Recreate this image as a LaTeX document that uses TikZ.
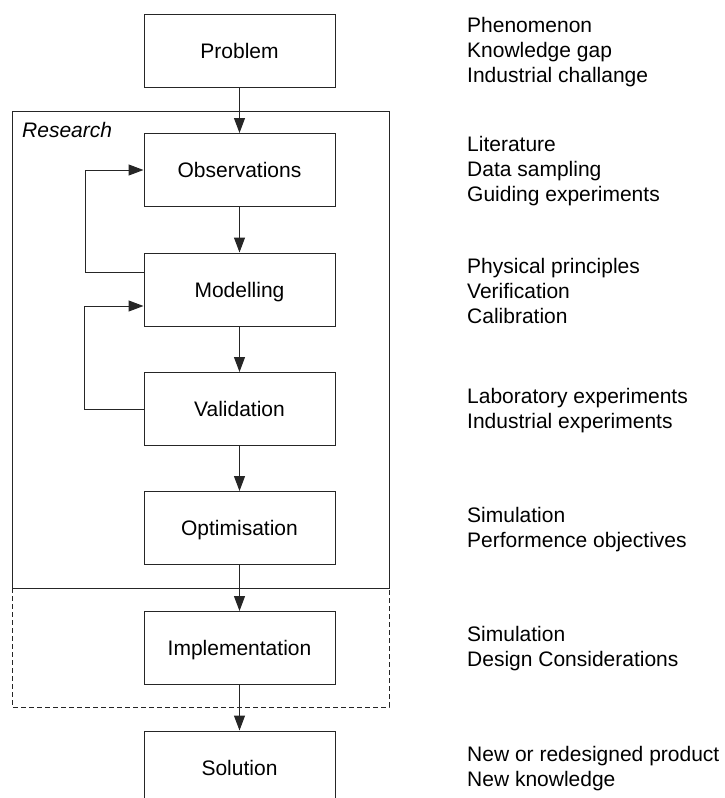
\documentclass[tikz,border=0pt]{standalone}
\usepackage{fontspec}
\setmainfont{Liberation Sans}
\usetikzlibrary{arrows.meta}
\begin{document}
\begin{tikzpicture}[x=1pt,y=-1pt,
  box/.style={draw=black!85, line width=1pt, minimum width=191pt, minimum height=73pt,
    inner sep=0pt, text height=15pt, text depth=0pt, font=\fontsize{21}{25}\selectfont},
  note/.style={anchor=west, align=left, inner sep=0pt, font=\fontsize{21}{25}\selectfont},
  conn/.style={draw=black!85, line width=1pt, -{Triangle[length=15pt,width=11pt]}},
  frame/.style={draw=black!85, line width=1pt}]
\clip (0,0) rectangle (724,798);
% frames
\draw[frame, dash pattern=on 5pt off 3pt] (12,588) rectangle (389,707);
\draw[frame] (12,111) rectangle (389,588);
\node[anchor=base west, inner sep=0pt, font=\itshape\fontsize{21}{25}\selectfont] (research) at (22,137) {Research};
% boxes
\node[box] (prob) at (239.5,50.5) {Problem};
\node[box] (obs)  at (239.5,170) {Observations};
\node[box] (mod)  at (239.5,289.5) {Modelling};
\node[box] (val)  at (239.5,409) {Validation};
\node[box] (opt)  at (239.5,528) {Optimisation};
\node[box] (impl) at (239.5,648) {Implementation};
\node[box] (sol)  at (239.5,767.5) {Solution};
% connectors
\draw[conn] (prob) -- (obs);
\draw[conn] (obs) -- (mod);
\draw[conn] (mod) -- (val);
\draw[conn] (val) -- (opt);
\draw[conn] (opt) -- (impl);
\draw[conn] (impl) -- (sol);
\draw[conn] ([yshift=17.5pt]mod.west) -- ++(-58,0) |- (obs.west);
\draw[conn] (val.west) -- ++(-59,0) |- ([yshift=-16.5pt]mod.west);
% notes
\node[note] (n1) at (467,52) {Phenomenon\\Knowledge gap\\Industrial challange};
\node[note] (n2) at (467,171.5) {Literature\\Data sampling\\Guiding experiments};
\node[note] (n3) at (467,291) {Physical principles\\Verification\\Calibration};
\node[note] (n4) at (467,410.5) {Laboratory experiments\\Industrial experiments};
\node[note] (n5) at (467,529.5) {Simulation\\Performence objectives};
\node[note] (n6) at (467,649) {Simulation\\Design Considerations};
\node[note] (n7) at (467,769) {New or redesigned product\\New knowledge};
\end{tikzpicture}
\end{document}
